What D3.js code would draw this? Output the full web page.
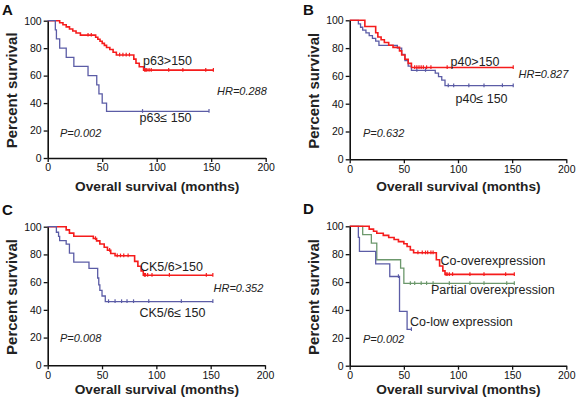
<!DOCTYPE html>
<html><head><meta charset="utf-8">
<script src="https://cdn.jsdelivr.net/npm/d3@7"></script>
<style>
html,body{margin:0;padding:0;background:#fff;}
svg{display:block;font-family:"Liberation Sans",Arial,sans-serif;}
</style></head>
<body><svg id="c" width="577" height="404"></svg>
<script>
// ---- data ----
const xTicks = [0, 50, 100, 150, 200];
const yTicks = [0, 20, 40, 60, 80, 100];

// Panel A
const aHighT = [11, 14, 17, 20, 23, 26, 30, 44, 46, 48, 50, 52, 54, 57, 60, 63, 79, 81, 84, 88];
const aHighS = [98.5, 97, 95.5, 94, 92.5, 91, 89.5, 88, 86.5, 85, 83.5, 82, 80.5, 79, 77, 75, 72, 69, 66.5, 64];
const aHighC = [37, 40, 66, 69, 72, 75, 89, 90, 91, 93, 95, 111, 124, 145, 152];
const aLowT = [7, 8, 11, 17, 24, 37, 45, 47, 50, 54];
const aLowS = [93.3, 86.7, 80, 73.3, 66.7, 60, 53.3, 46.7, 40, 34];
const aLowC = [87, 148];

// Panel B
const bHighT = [14, 24, 26, 29, 32, 36, 40, 46, 48, 51, 54, 57];
const bHighS = [95.5, 91, 88, 86, 84, 82, 80.5, 78, 75, 72, 69, 66];
const bHighC = [60, 62, 64, 66, 68, 71, 75, 90, 151];
const bLowT = [8, 10, 12, 15, 18, 21, 24, 27, 44, 48, 51, 54, 57, 79, 82, 85, 88];
const bLowS = [97.5, 95, 93, 91, 89, 87, 85, 82, 80, 75.5, 71, 67, 64, 62, 59.5, 57, 53];
const bLowC = [62, 70, 91, 96, 110, 124, 141, 151];

// Panel C
const cHighT = [17, 20, 24, 42, 45, 48, 52, 55, 58, 62, 80, 83, 86, 88];
const cHighS = [97.7, 95.4, 93.1, 91.5, 89.8, 87.5, 85.2, 83, 80.7, 79, 75, 71.5, 68, 65];
const cHighC = [44, 57, 64, 67, 70, 74, 89, 90, 92, 96, 112, 146, 152];
const cLowT = [8, 10, 11, 17, 20, 24, 38, 46, 47, 48, 50, 53];
const cLowS = [96, 93, 90, 87.5, 81, 74.5, 70, 63, 58, 54, 50, 46];
const cLowC = [56, 62, 68, 73, 79, 93, 123, 152];

// Panel D
const dCoT = [18, 22, 25, 31, 36, 41, 45, 50, 53, 56, 59, 80, 83, 86, 88];
const dCoS = [98, 96.5, 95, 93.5, 92, 90.5, 89, 87.5, 85.5, 83, 81, 76, 71.5, 68, 65.5];
const dCoC = [63, 67, 70, 72, 75, 77, 89, 90, 92, 95, 111, 124, 144, 152];
const dPartT = [12, 20, 25, 47, 50];
const dPartS = [94, 88, 76, 70, 59];
const dPartC = [56, 60, 66, 71, 77, 92, 111, 124, 145, 152];
const dLowT = [8, 9, 24, 37, 46, 53];
const dLowS = [92, 82, 73, 64, 39, 26];
const dLowC = [45, 57];

const RED = "#f51c1c", BLUE = "#5b5ca6", GREEN = "#6c986c";

// ---- layout ----
const panels = [
  {letter:"A", lx:2, ly:15, x0:47.7, x1:265.7, yTop:20.7, yBot:158, ytx:17, titleY:191,
   curves:[{t:aHighT,s:aHighS,c:aHighC,col:RED,w:1.6},{t:aLowT,s:aLowS,c:aLowC,col:BLUE,w:1.3}],
   labels:[{txt:"p63>150",x:143,y:65},{txt:"p63\u2264 150",x:139.5,y:121.5},
           {txt:"HR=0.288",x:217,y:95,it:1},{txt:"P=0.002",x:60,y:137,it:1}]},
  {letter:"B", lx:303, ly:15, x0:349.7, x1:566.3, yTop:20.3, yBot:159.3, ytx:319, titleY:191,
   curves:[{t:bLowT,s:bLowS,c:bLowC,col:BLUE,w:1.3},{t:bHighT,s:bHighS,c:bHighC,col:RED,w:1.6}],
   labels:[{txt:"p40>150",x:450.5,y:65.5},{txt:"p40\u2264 150",x:455.5,y:103},
           {txt:"HR=0.827",x:518.5,y:77.5,it:1},{txt:"P=0.632",x:363,y:137,it:1}]},
  {letter:"C", lx:2, ly:215, x0:47.7, x1:265, yTop:226.7, yBot:365.3, ytx:17, titleY:394,
   curves:[{t:cHighT,s:cHighS,c:cHighC,col:RED,w:1.6},{t:cLowT,s:cLowS,c:cLowC,col:BLUE,w:1.3}],
   labels:[{txt:"CK5/6>150",x:140,y:271},{txt:"CK5/6\u2264 150",x:139.5,y:316.5},
           {txt:"HR=0.352",x:213.5,y:292,it:1},{txt:"P=0.008",x:60,y:342,it:1}]},
  {letter:"D", lx:303, ly:214, x0:349.7, x1:566.3, yTop:226.3, yBot:365.7, ytx:319, titleY:394,
   curves:[{t:dPartT,s:dPartS,c:dPartC,col:GREEN,w:1.3},{t:dLowT,s:dLowS,c:dLowC,col:BLUE,w:1.3},
           {t:dCoT,s:dCoS,c:dCoC,col:RED,w:1.6}],
   labels:[{txt:"Co-overexpression",x:440.5,y:265},{txt:"Partial overexpression",x:431,y:294},
           {txt:"Co-low expression",x:410,y:326},{txt:"P=0.002",x:363,y:343,it:1}]}
];

const svg = d3.select("#c");

function survAt(t, T, S){
  let v = 100;
  for(let i=0;i<T.length;i++){ if(T[i] <= t) v = S[i]; }
  return v;
}

panels.forEach(p => {
  const x = d3.scaleLinear().domain([0,200]).range([p.x0,p.x1]);
  const y = d3.scaleLinear().domain([0,100]).range([p.yBot,p.yTop]);
  const g = svg.append("g");

  // curves
  p.curves.forEach(cv => {
    const end = d3.max(cv.c.concat(cv.t));
    const pts = [[0,100]].concat(cv.t.map((t,i)=>[t,cv.s[i]]));
    pts.push([end, cv.s[cv.s.length-1]]);
    const line = d3.line().x(d=>x(d[0])).y(d=>y(d[1])).curve(d3.curveStepAfter);
    g.append("path").attr("d", line(pts)).attr("fill","none")
      .attr("stroke", cv.col).attr("stroke-width", cv.w);
    g.selectAll(null).data(cv.c).enter().append("line")
      .attr("x1", d=>x(d)).attr("x2", d=>x(d))
      .attr("y1", d=>y(survAt(d,cv.t,cv.s))-2.2)
      .attr("y2", d=>y(survAt(d,cv.t,cv.s))+1.5)
      .attr("stroke", cv.col).attr("stroke-width", 1.2);
  });

  // axes
  const ax = g.append("g").attr("transform",`translate(0,${p.yBot})`)
    .call(d3.axisBottom(x).tickValues(xTicks).tickSize(4).tickSizeOuter(0).tickPadding(2));
  const ay = g.append("g").attr("transform",`translate(${p.x0},0)`)
    .call(d3.axisLeft(y).tickValues(yTicks).tickSize(4).tickSizeOuter(0).tickPadding(2));
  [ax, ay].forEach(a => {
    a.select(".domain").attr("stroke","#111").attr("stroke-width",1.6);
    a.selectAll(".tick line").attr("stroke","#111").attr("stroke-width",1.3);
    a.selectAll(".tick text").attr("fill","#111")
      .style("font-family",'"Liberation Sans",Arial,sans-serif').style("font-size","10.5px");
  });

  // titles
  g.append("text").attr("x",(p.x0+p.x1)/2 + 0.5).attr("y",p.titleY).attr("text-anchor","middle")
    .attr("font-size","13.7px").attr("font-weight","bold").attr("fill","#222")
    .text("Overall survival (months)");
  g.append("text").attr("transform",`translate(${p.ytx},${(p.yTop+p.yBot)/2+1}) rotate(-90)`)
    .attr("text-anchor","middle").attr("font-size","15px").attr("font-weight","bold").attr("fill","#222")
    .text("Percent survival");
  g.append("text").attr("x",p.lx).attr("y",p.ly).attr("font-size","15px").attr("font-weight","bold")
    .attr("fill","#111").text(p.letter);

  p.labels.forEach(l => {
    g.append("text").attr("x",l.x).attr("y",l.y)
      .attr("font-size", l.it ? "11px" : "12.5px")
      .attr("font-style", l.it ? "italic" : "normal")
      .attr("fill","#222").text(l.txt);
  });
});
</script></body></html>
